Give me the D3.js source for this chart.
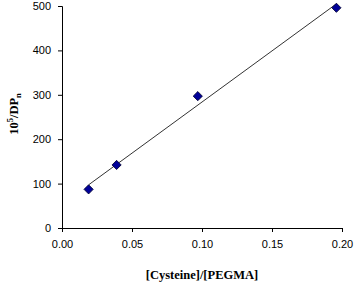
<!DOCTYPE html>
<html>
<head>
<meta charset="utf-8">
<script src="https://cdn.jsdelivr.net/npm/d3@7"></script>
<style>
  body { margin: 0; background: #fff; }
  .tick text { font-family: "Liberation Sans", Arial, sans-serif; font-size: 11px; fill: #000; }
  .axis-title { font-family: "Liberation Serif", "Times New Roman", serif; font-size: 12.5px; font-weight: bold; fill: #000; }
</style>
</head>
<body>
<div id="chart"></div>
<script>
// data
const ratio = [0.019, 0.039, 0.097, 0.196]
const invDPn = [87, 142, 297, 496]
const xTicks = [0, 0.05, 0.10, 0.15, 0.20]
const yTicks = [0, 100, 200, 300, 400, 500]

const width = 355, height = 284
const margin = { top: 6, left: 62, right: 13, bottom: 56 }

const svg = d3.select('#chart')
  .append('svg')
  .attr('width', width)
  .attr('height', height)

const xScale = d3.scaleLinear()
  .domain([0, 0.2])
  .range([margin.left, width - margin.right])
const yScale = d3.scaleLinear()
  .domain([0, 500])
  .range([height - margin.bottom, margin.top])

// axes
svg.append('g')
  .attr('transform', 'translate(0,' + (height - margin.bottom) + ')')
  .call(d3.axisBottom(xScale).tickValues(xTicks).tickFormat(d3.format('.2f')).tickSize(4).tickPadding(8))
  .call(g => g.selectAll('path, line').attr('stroke', '#000'))
svg.append('g')
  .attr('transform', 'translate(' + margin.left + ',0)')
  .call(d3.axisLeft(yScale).tickValues(yTicks).tickSize(4).tickPadding(7))
  .call(g => g.selectAll('path, line').attr('stroke', '#000'))

// least-squares trendline across the data range
const pts = ratio.map((r, i) => [r, invDPn[i]])
const mx = d3.mean(ratio), my = d3.mean(invDPn)
const slope = d3.sum(pts, p => (p[0] - mx) * (p[1] - my)) / d3.sum(pts, p => (p[0] - mx) ** 2)
const icpt = my - slope * mx
const xr = d3.extent(ratio)
svg.append('path')
  .attr('d', d3.line().x(d => xScale(d)).y(d => yScale(slope * d + icpt))(xr))
  .attr('fill', 'none')
  .attr('stroke', '#333')
  .attr('stroke-width', 1)

// diamond markers
svg.append('g')
  .selectAll('path')
  .data(pts)
  .enter()
  .append('path')
  .attr('d', d3.symbol().type(d3.symbolSquare).size(42))
  .attr('transform', d => 'translate(' + xScale(d[0]) + ',' + yScale(d[1]) + ') rotate(45)')
  .attr('fill', '#000099')
  .attr('stroke', '#000033')
  .attr('stroke-width', 0.8)

// titles
svg.append('text')
  .attr('class', 'axis-title')
  .attr('x', xScale(0.1))
  .attr('y', 279)
  .attr('text-anchor', 'middle')
  .text('[Cysteine]/[PEGMA]')

const yt = svg.append('text')
  .attr('class', 'axis-title')
  .attr('transform', 'translate(18,114) rotate(-90)')
  .attr('text-anchor', 'middle')
yt.append('tspan').text('10')
yt.append('tspan').attr('dy', -5).style('font-size', '8.5px').text('5')
yt.append('tspan').attr('dy', 5).text('/DP')
yt.append('tspan').attr('dy', 3).style('font-size', '8.5px').text('n')
</script>
</body>
</html>
